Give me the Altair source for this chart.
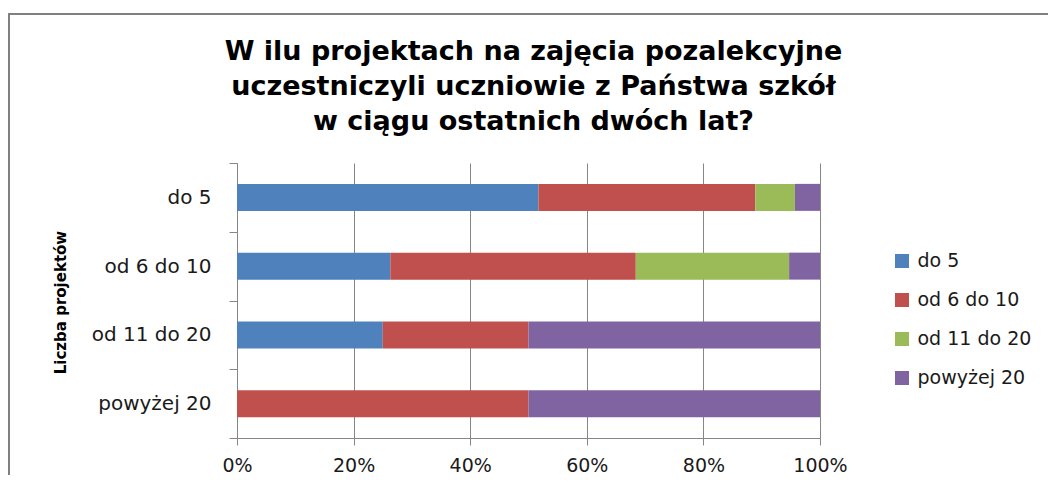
import altair as alt
import pandas as pd

categories = ["do 5", "od 6 do 10", "od 11 do 20", "powyżej 20"]
series = ["do 5", "od 6 do 10", "od 11 do 20", "powyżej 20"]
colors = ["#4F81BD", "#C0504D", "#9BBB59", "#8064A2"]

s_do5 = [51.7, 26.3, 25.0, 0.0]
s_od6 = [37.2, 42.1, 25.0, 50.0]
s_od11 = [6.8, 26.3, 0.0, 0.0]
s_pow20 = [4.3, 5.3, 50.0, 50.0]

title_lines = [
    "W ilu projektach na zajęcia pozalekcyjne",
    "uczestniczyli uczniowie z Państwa szkół",
    "w ciągu ostatnich dwóch lat?",
]
x_ticks = [0, 0.2, 0.4, 0.6, 0.8, 1.0]

rows = []
for si, (name, vals) in enumerate(zip(series, [s_do5, s_od6, s_od11, s_pow20])):
    for cat, v in zip(categories, vals):
        rows.append({"kategoria": cat, "seria": name, "wartosc": v, "kolejnosc": si})
df = pd.DataFrame(rows)

FONT = "DejaVu Sans"
GRAY = "#868686"

bars = alt.Chart(df).mark_bar(size=27).encode(
    y=alt.Y(
        "kategoria:N",
        sort=categories,
        scale=alt.Scale(paddingInner=0, paddingOuter=0),
        axis=alt.Axis(
            title="Liczba projektów",
            titleFont=FONT,
            titleFontSize=15,
            titleFontWeight="bold",
            titleColor="#000000",
            titleAngle=270,
            titleX=-177,
            titleY=139,
            titleAlign="center",
            titleBaseline="middle",
            labelFont=FONT,
            labelFontSize=20,
            labelColor="#1a1a1a",
            labelPadding=18,
            tickSize=8,
            tickColor=GRAY,
            domainColor=GRAY,
            tickBand="extent",
            grid=False,
        ),
    ),
    x=alt.X(
        "wartosc:Q",
        stack="normalize",
        scale=alt.Scale(domain=[0, 1], nice=False),
        axis=alt.Axis(
            title=None,
            values=x_ticks,
            format=".0%",
            grid=True,
            gridColor=GRAY,
            gridOpacity=1,
            domainColor=GRAY,
            tickColor=GRAY,
            tickSize=7,
            labelFont=FONT,
            labelFontSize=19,
            labelColor="#1a1a1a",
            labelPadding=11,
            labelFlush=False,
        ),
    ),
    color=alt.Color(
        "seria:N",
        sort=series,
        scale=alt.Scale(domain=series, range=colors),
        legend=alt.Legend(
            title=None,
            orient="none",
            legendX=655.5,
            legendY=88.5,
            symbolType="square",
            symbolSize=196,
            symbolStrokeWidth=0,
            labelFont=FONT,
            labelFontSize=19,
            labelColor="#1a1a1a",
            labelOffset=6,
            rowPadding=19,
            padding=0,
        ),
    ),
    order=alt.Order("kolejnosc:Q"),
)

frame = alt.Chart(pd.DataFrame({"f": [0]})).mark_rect(
    fillOpacity=0, stroke="#808080", strokeWidth=2
).encode(
    x=alt.value(-228),
    x2=alt.value(1200),
    y=alt.value(-149),
    y2=alt.value(600),
)

title = alt.Chart(pd.DataFrame({"f": [0]})).mark_text(
    font=FONT,
    fontSize=27,
    fontWeight="bold",
    color="#000000",
    lineHeight=35,
    align="center",
    baseline="alphabetic",
).encode(
    text=alt.value(title_lines),
    x=alt.value(296.5),
    y=alt.value(-103.5),
)

chart = alt.layer(frame, title, bars).properties(
    width=583,
    height=275,
    autosize="none",
    padding={"left": 229, "top": 155, "right": 228, "bottom": 37},
).configure_view(stroke=None)

chart.save("out.html", embed_options={"renderer": "svg", "actions": False})
